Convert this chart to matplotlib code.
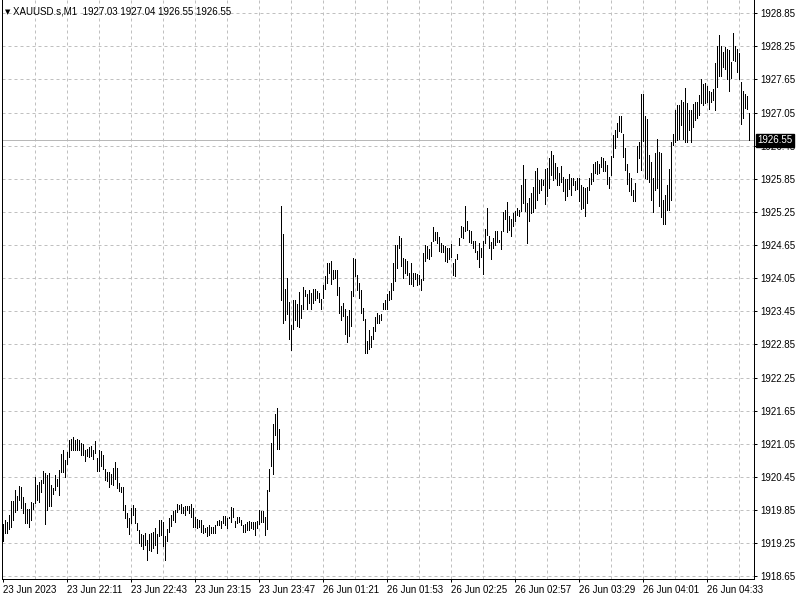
import matplotlib.pyplot as plt

# one-minute bars, high / low of each bar (Friday 23 Jun then Monday 26 Jun)
highs = [
    1919.60, 1919.66, 1919.64, 1919.76, 1920.02, 1920.02, 1920.21, 1920.10, 1920.29, 1920.26,
    1920.08, 1919.97, 1919.86, 1919.86, 1920.00, 1919.98, 1920.45, 1920.30, 1920.36, 1920.40,
    1920.55, 1920.52, 1920.48, 1920.52, 1920.30, 1920.24, 1920.48, 1920.42, 1920.58, 1920.86,
    1920.94, 1920.75, 1920.90, 1921.11, 1921.14, 1921.17, 1921.11, 1921.14, 1921.12, 1921.07,
    1921.05, 1920.93, 1920.96, 1920.99, 1921.01, 1920.93, 1921.10, 1920.80, 1920.94, 1920.92,
    1920.84, 1920.60, 1920.54, 1920.54, 1920.51, 1920.62, 1920.72, 1920.62, 1920.34, 1920.27,
    1920.27, 1919.94, 1919.79, 1919.70, 1919.88, 1919.94, 1919.88, 1919.62, 1919.49, 1919.42,
    1919.40, 1919.44, 1919.31, 1919.42, 1919.43, 1919.46, 1919.52, 1919.42, 1919.67, 1919.67,
    1919.64, 1919.37, 1919.51, 1919.70, 1919.76, 1919.84, 1919.85, 1919.96, 1919.94, 1919.96,
    1919.90, 1919.92, 1919.92, 1919.92, 1919.95, 1919.88, 1919.73, 1919.68, 1919.67, 1919.67,
    1919.57, 1919.53, 1919.55, 1919.57, 1919.55, 1919.55, 1919.58, 1919.65, 1919.67, 1919.65,
    1919.75, 1919.75, 1919.70, 1919.73, 1919.91, 1919.88, 1919.65, 1919.73, 1919.73, 1919.67,
    1919.57, 1919.59, 1919.64, 1919.65, 1919.64, 1919.64, 1919.63, 1919.65, 1919.85, 1919.83,
    1919.83, 1919.73, 1920.22, 1920.60, 1921.07, 1921.41, 1921.59, 1921.69, 1921.31,
    1925.35, 1924.85, 1923.85, 1924.05, 1923.61, 1923.21, 1923.66, 1923.66, 1923.59, 1923.80, 1923.57,
    1923.89, 1923.84, 1923.77, 1923.84, 1923.78, 1923.85, 1923.86, 1923.81, 1923.78, 1923.67,
    1923.93, 1924.09, 1924.33, 1924.32, 1924.37, 1924.19, 1924.20, 1924.20, 1923.89, 1923.55,
    1923.60, 1923.49, 1923.36, 1923.48, 1923.81, 1924.41, 1924.39, 1924.11, 1923.96, 1923.84,
    1923.51, 1923.31, 1922.91, 1923.11, 1923.01, 1923.17, 1923.35, 1923.42, 1923.39, 1923.41,
    1923.60, 1923.66, 1923.77, 1923.81, 1923.97, 1924.33, 1924.66, 1924.66, 1924.81, 1924.78,
    1924.42, 1924.39, 1924.36, 1924.15, 1924.33, 1924.15, 1924.15, 1924.13, 1924.11, 1924.03,
    1924.51, 1924.65, 1924.63, 1924.57, 1924.71, 1924.97, 1924.89, 1924.89, 1924.79, 1924.69,
    1924.66, 1924.63, 1924.59, 1924.60, 1924.67, 1924.33, 1924.39, 1924.49, 1924.78, 1924.99,
    1924.97, 1925.35, 1925.08, 1924.93, 1924.91, 1924.72, 1924.73, 1924.54, 1924.69, 1924.60,
    1924.72, 1924.95, 1925.33, 1924.81, 1924.71, 1924.78, 1924.90, 1924.91, 1924.75, 1924.91,
    1925.25, 1925.29, 1925.43, 1925.17, 1925.13, 1925.23, 1925.26, 1925.32, 1925.29, 1925.73,
    1926.10, 1925.85, 1925.41, 1925.50, 1925.59, 1925.71, 1925.99, 1926.05, 1925.83, 1925.85,
    1925.83, 1926.03, 1926.04, 1926.22, 1926.35, 1926.28, 1926.13, 1926.07, 1925.95, 1926.09,
    1925.89, 1925.85, 1925.85, 1925.93, 1925.86, 1925.86, 1925.81, 1925.86, 1925.86, 1925.74,
    1925.71, 1925.68, 1925.71, 1925.86, 1925.95, 1926.11, 1926.16, 1926.17, 1926.11, 1926.25,
    1926.22, 1926.17, 1926.10, 1925.89, 1926.27, 1926.64, 1926.73, 1926.87, 1926.99, 1926.99,
    1926.67, 1926.41, 1926.11, 1925.95, 1925.86, 1925.65, 1925.77, 1926.45, 1926.51, 1927.38,
    1927.39, 1926.99, 1926.94, 1926.28, 1926.16, 1925.86, 1926.31, 1926.57, 1926.34, 1926.31,
    1925.47, 1925.56, 1925.74, 1926.03, 1926.52, 1926.67, 1927.09, 1927.19, 1927.18, 1927.27,
    1927.24, 1927.49, 1927.23, 1927.09, 1927.09, 1927.21, 1927.24, 1927.25, 1927.37, 1927.65,
    1927.57, 1927.59, 1927.54, 1927.45, 1927.43, 1927.48, 1927.95, 1928.26, 1928.45, 1928.25,
    1928.14, 1928.23, 1928.20, 1928.19, 1927.96, 1928.50, 1928.26, 1928.20, 1928.13, 1927.61,
    1927.45, 1927.39, 1927.35, 1927.04,
]
lows = [
    1919.28, 1919.43, 1919.43, 1919.50, 1919.55, 1919.67, 1919.82, 1919.85, 1920.03, 1919.88,
    1919.79, 1919.62, 1919.61, 1919.54, 1919.67, 1919.86, 1919.97, 1920.04, 1920.00, 1920.18,
    1920.34, 1919.59, 1919.85, 1919.92, 1919.92, 1920.14, 1920.21, 1920.28, 1920.13, 1920.54,
    1920.54, 1920.44, 1920.68, 1920.81, 1920.93, 1920.94, 1920.94, 1920.94, 1920.93, 1920.84,
    1920.84, 1920.74, 1920.82, 1920.81, 1920.83, 1920.78, 1920.88, 1920.56, 1920.56, 1920.65,
    1920.60, 1920.39, 1920.37, 1920.26, 1920.33, 1920.31, 1920.42, 1920.24, 1920.20, 1920.18,
    1919.85, 1919.70, 1919.55, 1919.42, 1919.61, 1919.76, 1919.61, 1919.48, 1919.25, 1919.19,
    1919.15, 1919.22, 1918.95, 1919.13, 1919.10, 1919.16, 1919.22, 1919.08, 1919.37, 1919.40,
    1919.19, 1918.95, 1919.28, 1919.46, 1919.56, 1919.66, 1919.64, 1919.82, 1919.86, 1919.79,
    1919.79, 1919.76, 1919.85, 1919.80, 1919.73, 1919.55, 1919.55, 1919.53, 1919.55, 1919.46,
    1919.43, 1919.46, 1919.37, 1919.40, 1919.43, 1919.43, 1919.43, 1919.57, 1919.58, 1919.53,
    1919.61, 1919.57, 1919.52, 1919.70, 1919.64, 1919.73, 1919.55, 1919.61, 1919.64, 1919.58,
    1919.46, 1919.46, 1919.49, 1919.49, 1919.52, 1919.51, 1919.40, 1919.53, 1919.59, 1919.64,
    1919.64, 1919.40, 1919.51, 1920.19, 1920.65, 1920.51, 1921.21, 1920.95, 1920.95,
    1923.65, 1923.24, 1923.30, 1923.41, 1922.95, 1922.75, 1923.13, 1923.30, 1923.19, 1923.17, 1923.33,
    1923.49, 1923.72, 1923.49, 1923.60, 1923.49, 1923.60, 1923.66, 1923.69, 1923.61, 1923.49,
    1923.69, 1923.85, 1923.97, 1924.15, 1923.95, 1924.03, 1924.05, 1923.75, 1923.42, 1923.29,
    1923.36, 1923.03, 1922.89, 1923.00, 1923.19, 1923.72, 1924.09, 1923.84, 1923.69, 1923.42,
    1923.29, 1922.70, 1922.70, 1922.77, 1922.81, 1922.94, 1923.09, 1923.24, 1923.24, 1923.29,
    1923.49, 1923.49, 1923.49, 1923.66, 1923.67, 1923.83, 1923.99, 1924.24, 1924.59, 1924.27,
    1924.05, 1924.15, 1924.11, 1923.95, 1923.95, 1923.91, 1924.03, 1923.93, 1923.94, 1923.83,
    1924.01, 1924.37, 1924.41, 1924.39, 1924.45, 1924.72, 1924.75, 1924.69, 1924.54, 1924.53,
    1924.53, 1924.36, 1924.35, 1924.39, 1924.43, 1924.11, 1924.09, 1924.39, 1924.65, 1924.79,
    1924.77, 1924.90, 1924.93, 1924.71, 1924.69, 1924.60, 1924.53, 1924.39, 1924.25, 1924.43,
    1924.12, 1924.69, 1924.83, 1924.59, 1924.39, 1924.59, 1924.66, 1924.71, 1924.71, 1924.57,
    1924.91, 1925.13, 1924.89, 1924.93, 1924.81, 1924.99, 1925.08, 1925.20, 1925.17, 1925.26,
    1925.41, 1925.26, 1924.69, 1925.09, 1925.23, 1925.25, 1925.32, 1925.47, 1925.59, 1925.65,
    1925.73, 1925.39, 1925.53, 1925.68, 1925.92, 1925.83, 1925.87, 1925.73, 1925.73, 1925.80,
    1925.63, 1925.47, 1925.53, 1925.67, 1925.56, 1925.73, 1925.65, 1925.67, 1925.44, 1925.31,
    1925.32, 1925.17, 1925.41, 1925.65, 1925.75, 1925.81, 1925.95, 1925.93, 1925.95, 1926.07,
    1925.99, 1925.99, 1925.75, 1925.68, 1925.92, 1926.25, 1926.41, 1926.61, 1926.71, 1926.69,
    1926.25, 1926.01, 1925.75, 1925.63, 1925.55, 1925.45, 1925.44, 1925.98, 1926.22, 1926.01,
    1926.53, 1925.86, 1925.85, 1925.80, 1925.47, 1925.25, 1925.65, 1925.68, 1925.35, 1925.15,
    1925.03, 1925.03, 1925.29, 1925.29, 1925.47, 1926.46, 1926.51, 1926.55, 1926.58, 1926.82,
    1926.58, 1926.52, 1926.52, 1926.73, 1926.52, 1926.79, 1926.91, 1926.95, 1927.01, 1927.23,
    1927.18, 1927.23, 1927.25, 1927.11, 1927.25, 1927.27, 1927.09, 1927.51, 1927.72, 1927.71,
    1927.87, 1927.84, 1927.65, 1927.45, 1927.67, 1928.01, 1927.99, 1927.79, 1927.65, 1926.85,
    1926.95, 1927.13, 1927.11, 1926.55,
]

time_labels = ["23 Jun 2023", "23 Jun 22:11", "23 Jun 22:43", "23 Jun 23:15",
               "23 Jun 23:47", "26 Jun 01:21", "26 Jun 01:53", "26 Jun 02:25",
               "26 Jun 02:57", "26 Jun 03:29", "26 Jun 04:01", "26 Jun 04:33"]
price_ticks = [1918.65, 1919.25, 1919.85, 1920.45, 1921.05, 1921.65, 1922.25,
               1922.85, 1923.45, 1924.05, 1924.65, 1925.25, 1925.85, 1926.45,
               1927.05, 1927.65, 1928.25, 1928.85]

symbol = "XAUUSD.s,M1"
last_open = 1927.03
last_close = 1926.55

plt.rcParams['font.family'] = ['Liberation Sans', 'DejaVu Sans']
plt.rcParams['font.size'] = 7

fig = plt.figure(figsize=(8, 6), dpi=100)
ax = fig.add_axes([2 / 800, 21 / 600, 752 / 800, 579 / 600])

n = len(highs)
idx = list(range(n))
px = 0.72  # one pixel in points

ax.set_xlim(-0.65, 375.35)
ax.set_ylim(1918.60, 1929.09)

# dashed grid
for p in price_ticks:
    ax.axhline(p, color='#c0c0c0', lw=px, ls=(0, (3, 3)), zorder=0)
for i in range(16, n, 16):
    ax.axvline(i, color='#c0c0c0', lw=px, ls=(0, (3, 3)), zorder=0)

# current price line
ax.axhline(last_close, color='#b8b8b8', lw=px, zorder=1)

# bars (high-low)
ax.vlines(idx, lows, highs, colors='black', linewidth=px, antialiased=False, zorder=3)

# axes styling
ax.spines['top'].set_visible(False)
for s in ['left', 'right', 'bottom']:
    ax.spines[s].set_linewidth(px)
    ax.spines[s].set_color('black')

ax.yaxis.tick_right()
ax.set_yticks(price_ticks, [f"{p:.2f}" for p in price_ticks])
ax.tick_params(axis='y', direction='out', length=2.2, width=px, pad=2.5, labelsize=7)

ax.set_xticks(list(range(0, n, 32)), time_labels)
ax.tick_params(axis='x', direction='out', length=2.2, width=px, pad=2.0, labelsize=7)
for lbl in ax.get_xticklabels():
    lbl.set_horizontalalignment('left')

# price tag on the right scale
ax.annotate(f"{last_close:.2f}", xy=(1, last_close), xycoords=('axes fraction', 'data'),
            xytext=(2.5, 0), textcoords='offset points', ha='left', va='center',
            color='white', fontsize=7, annotation_clip=False, zorder=10,
            bbox=dict(boxstyle='square,pad=0.15', fc='black', ec='black'))

# header
ax.annotate("\u25bc", xy=(0, 1), xycoords='axes fraction', xytext=(3, -12),
            textcoords='offset pixels', ha='left', va='center', fontsize=5,
            family=['DejaVu Sans'])
header = f"{symbol}  {last_open:.2f} {highs[-1]:.2f} {lows[-1]:.2f} {last_close:.2f}"
ax.annotate(header, xy=(0, 1), xycoords='axes fraction', xytext=(11, -12),
            textcoords='offset pixels', ha='left', va='center', fontsize=7)

fig.savefig("out.png", dpi=100, facecolor='white')
